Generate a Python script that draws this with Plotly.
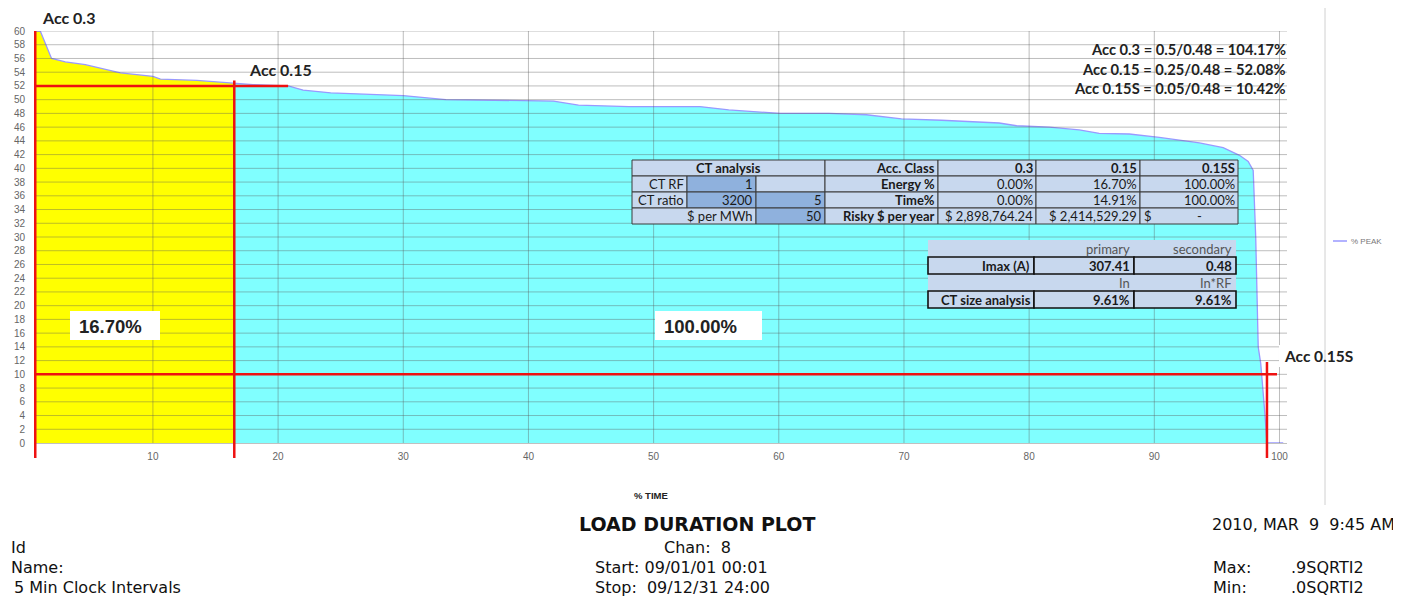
import plotly.graph_objects as go

# ---------------- data ----------------
time_pct = [0.5, 1.0, 1.9, 3.0, 4.6, 6.0, 7.4, 10.0, 10.6, 13.5,
            16.5, 18.0, 20.8, 22.0, 24.2, 27.0, 30.0, 33.4, 37.8, 42.0,
            44.0, 48.0, 53.7, 56.0, 60.1, 64.0, 67.0, 69.8, 73.0, 77.6,
            79.0, 81.6, 84.0, 85.6, 88.0, 90.4, 93.6, 95.5, 96.8, 97.5,
            97.9, 98.1, 98.3, 98.5, 98.8, 99.0, 100.3]
pct_peak = [60.0, 60.0, 56.0, 55.5, 55.1, 54.5, 53.9, 53.4, 53.0, 52.8,
            52.4, 52.2, 52.0, 51.4, 51.0, 50.8, 50.6, 50.0, 49.9, 49.8,
            49.2, 49.0, 49.0, 48.5, 48.0, 48.0, 47.8, 47.2, 47.0, 46.6,
            46.2, 46.0, 45.6, 45.1, 45.0, 44.5, 43.7, 43.0, 41.9, 41.0,
            39.7, 30.0, 14.0, 11.6, 5.0, 0.0, 0.0]

split_time = 16.5          # boundary between yellow and cyan regions
end_time = 99.0            # end of the cyan region

x_ticks = [10, 20, 30, 40, 50, 60, 70, 80, 90, 100]
y_ticks = list(range(0, 61, 2))

# Accuracy marker lines (red)
acc_vert_x = [0.6, 16.5, 99.0]
acc_vert_top = [60.0, 52.8, 11.8]
acc_horiz_y = [52.0, 10.0]
acc_horiz_xend = [20.8, 99.8]

# Table 1 contents
acc_classes = ["0.3", "0.15", "0.15S"]
energy_pct = ["0.00%", "16.70%", "100.00%"]
time_pct_tbl = ["0.00%", "14.91%", "100.00%"]
risky_per_year = ["$ 2,898,764.24", "$ 2,414,529.29", "-"]
ct_rf = "1"
ct_ratio = ["3200", "5"]
per_mwh = "50"

# Table 2 contents
imax_a = ["307.41", "0.48"]
ct_size = ["9.61%", "9.61%"]

acc_notes = ["Acc 0.3 = 0.5/0.48 = 104.17%",
             "Acc 0.15 = 0.25/0.48 = 52.08%",
             "Acc 0.15S = 0.05/0.48 = 10.42%"]

# ---------------- layout geometry ----------------
OFF = 8                     # page body margin
W, H = 1401 - OFF, 604 - OFF
PL, PR, PT, PB = 34, 1287, 31, 443   # plot area in page pixels
XR = [0.5, 100.6]
YR = [0, 60]


def px(x):
    return (x - PL) / (PR - PL)


def py(y):
    return (PB - y) / (PB - PT)


def ypaper(v):
    return (v - YR[0]) / (YR[1] - YR[0])


fig = go.Figure()

yel_x = [t for t in time_pct if t <= split_time]
yel_y = [p for t, p in zip(time_pct, pct_peak) if t <= split_time]
cy_x = [t for t in time_pct if split_time <= t <= end_time]
cy_y = [p for t, p in zip(time_pct, pct_peak) if split_time <= t <= end_time]

fig.add_trace(go.Scatter(x=yel_x, y=yel_y, fill="tozeroy", mode="none",
                         fillcolor="#ffff00", showlegend=False, hoverinfo="skip"))
fig.add_trace(go.Scatter(x=cy_x, y=cy_y, fill="tozeroy", mode="none",
                         fillcolor="#80ffff", showlegend=False, hoverinfo="skip"))
fig.add_trace(go.Scatter(x=time_pct, y=pct_peak, mode="lines", name="% PEAK",
                         line=dict(color="#9999ff", width=1.3), showlegend=False))

shapes = []
# gridlines above fills
for yv in y_ticks[1:]:
    shapes.append(dict(type="line", xref="paper", yref="y", x0=0, x1=1, y0=yv, y1=yv,
                       line=dict(color="rgba(90,90,90,0.4)", width=1), layer="above"))
for xv in x_ticks:
    shapes.append(dict(type="line", xref="x", yref="paper", x0=xv, x1=xv, y0=0, y1=1,
                       line=dict(color="rgba(90,90,90,0.4)", width=1), layer="above"))

# red marker lines
for xv, top in zip(acc_vert_x, acc_vert_top):
    shapes.append(dict(type="line", xref="x", yref="paper", x0=xv, x1=xv,
                       y0=-15 / (PB - PT), y1=ypaper(top),
                       line=dict(color="#ee1111", width=2.5), layer="above"))
for yv, xe in zip(acc_horiz_y, acc_horiz_xend):
    shapes.append(dict(type="line", xref="x", yref="y", x0=XR[0], x1=xe, y0=yv, y1=yv,
                       line=dict(color="#ee1111", width=2.5), layer="above"))

annotations = []
LIGHT = "#c8d8ee"
MED = "#8fb1dd"
BORDER = "#3a3a3a"
TFONT = "Lato"
TSIZE = 13


def rect(x0, x1, y0, y1, fill, line_color=BORDER, lw=1):
    shapes.append(dict(type="rect", xref="paper", yref="paper",
                       x0=px(x0), x1=px(x1), y0=py(y1), y1=py(y0),
                       fillcolor=fill, line=dict(color=line_color, width=lw), layer="above"))


def text(x, y, s, size=TSIZE, bold=False, anchor="right", color="#1a1a1a", family=TFONT):
    annotations.append(dict(x=px(x), y=py(y), xref="paper", yref="paper",
                            text=("<b>%s</b>" % s) if bold else s, showarrow=False,
                            xanchor=anchor, yanchor="middle", borderpad=0,
                            font=dict(size=size, color=color, family=family)))


def cell(x0, x1, y0, y1, fill, s="", bold=False, align="right", color="#1a1a1a"):
    rect(x0, x1, y0, y1, fill)
    if s:
        if align == "right":
            text(x1 - 2, (y0 + y1) / 2, s, bold=bold, anchor="right", color=color)
        elif align == "center":
            text((x0 + x1) / 2, (y0 + y1) / 2, s, bold=bold, anchor="center", color=color)
        else:
            text(x0 + 3, (y0 + y1) / 2, s, bold=bold, anchor="left", color=color)


# ---- table 1 ----
cx = [632, 687, 756, 825, 938, 1036, 1140, 1238]
ry = [160, 176, 192, 208, 224]
cell(cx[0], cx[3], ry[0], ry[1], LIGHT, "CT analysis", bold=True, align="center")
cell(cx[3], cx[4], ry[0], ry[1], LIGHT, "Acc. Class", bold=True)
for i in range(3):
    cell(cx[4 + i], cx[5 + i], ry[0], ry[1], LIGHT, acc_classes[i], bold=True)

cell(cx[0], cx[1], ry[1], ry[2], LIGHT, "CT RF")
cell(cx[1], cx[2], ry[1], ry[2], MED, ct_rf)
cell(cx[2], cx[3], ry[1], ry[2], LIGHT)
cell(cx[3], cx[4], ry[1], ry[2], LIGHT, "Energy %", bold=True)
for i in range(3):
    cell(cx[4 + i], cx[5 + i], ry[1], ry[2], LIGHT, energy_pct[i])

cell(cx[0], cx[1], ry[2], ry[3], LIGHT, "CT ratio")
cell(cx[1], cx[2], ry[2], ry[3], MED, ct_ratio[0])
cell(cx[2], cx[3], ry[2], ry[3], MED, ct_ratio[1])
cell(cx[3], cx[4], ry[2], ry[3], LIGHT, "Time%", bold=True)
for i in range(3):
    cell(cx[4 + i], cx[5 + i], ry[2], ry[3], LIGHT, time_pct_tbl[i])

cell(cx[0], cx[2], ry[3], ry[4], LIGHT, "$ per MWh")
cell(cx[2], cx[3], ry[3], ry[4], MED, per_mwh)
cell(cx[3], cx[4], ry[3], ry[4], LIGHT, "Risky $ per year", bold=True)
cell(cx[4], cx[5], ry[3], ry[4], LIGHT, risky_per_year[0])
cell(cx[5], cx[6], ry[3], ry[4], LIGHT, risky_per_year[1])
cell(cx[6], cx[7], ry[3], ry[4], LIGHT, "$", align="left")
text((cx[6] + cx[7]) / 2 + 10, (ry[3] + ry[4]) / 2, risky_per_year[2], anchor="center")

# ---- table 2 ----
tx = [928, 1034, 1134, 1236]
ty = [240, 257, 274, 291, 308]
rect(tx[0], tx[3], ty[0], ty[4], LIGHT, line_color=LIGHT, lw=0)
text(tx[2] - 3, (ty[0] + ty[1]) / 2, "primary", color="#555555")
text(tx[3] - 3, (ty[0] + ty[1]) / 2, "secondary", color="#555555")
for a, b in [(0, 1), (1, 2), (2, 3)]:
    rect(tx[a], tx[b], ty[1], ty[2], LIGHT, "#111111", 1.6)
    rect(tx[a], tx[b], ty[3], ty[4], LIGHT, "#111111", 1.6)
text(tx[1] - 3, (ty[1] + ty[2]) / 2, "Imax (A)", bold=True)
text(tx[2] - 3, (ty[1] + ty[2]) / 2, imax_a[0], bold=True)
text(tx[3] - 3, (ty[1] + ty[2]) / 2, imax_a[1], bold=True)
text(tx[2] - 3, (ty[2] + ty[3]) / 2, "In", color="#555555")
text(tx[3] - 3, (ty[2] + ty[3]) / 2, "In*RF", color="#555555")
text(tx[1] - 2, (ty[3] + ty[4]) / 2, "CT size analysis", bold=True)
text(tx[2] - 3, (ty[3] + ty[4]) / 2, ct_size[0], bold=True)
text(tx[3] - 3, (ty[3] + ty[4]) / 2, ct_size[1], bold=True)

# ---- notes / labels ----
for i, s in enumerate(acc_notes):
    text(1287, 49 + 19.5 * i, s, size=14.7, bold=True, anchor="right", color="#222222")

text(41, 18, "Acc 0.3", size=16, bold=True, anchor="left", color="#222222")
text(248, 70, "Acc 0.15", size=16, bold=True, anchor="left", color="#222222")
shapes.append(dict(type="rect", xref="paper", yref="paper", x0=px(1279), x1=px(1357),
                   y0=py(367), y1=py(345), fillcolor="white", line=dict(width=0), layer="above"))
text(1283, 356, "Acc 0.15S", size=15.5, bold=True, anchor="left", color="#222222")

for (x0, x1), s in [((70, 160), "16.70%"), ((655, 762), "100.00%")]:
    shapes.append(dict(type="rect", xref="paper", yref="paper", x0=px(x0), x1=px(x1),
                       y0=py(340), y1=py(311), fillcolor="white", line=dict(width=0),
                       layer="above"))
    text(x0 + 8, 326, s, size=18.5, bold=True, anchor="left", color="#222222",
         family="Liberation Sans")

# legend
shapes.append(dict(type="line", xref="paper", yref="paper", x0=px(1333), x1=px(1347),
                   y0=py(241), y1=py(241), line=dict(color="#9999ff", width=1.5)))
text(1350, 241, "% PEAK", size=8, anchor="left", color="#777777", family="Liberation Sans")
shapes.append(dict(type="line", xref="paper", yref="paper", x0=px(1325), x1=px(1325),
                   y0=py(5), y1=py(505), line=dict(color="#d0d0d0", width=1)))

# axis title
text(651, 495, "% TIME", size=9.5, bold=True, anchor="center", color="#222222",
     family="Liberation Sans")

# footer text
FF = "DejaVu Sans"
FS = 16
text(697, 524, "LOAD DURATION PLOT", size=19, bold=True, anchor="center", color="#111111", family=FF)
text(697, 547, "Chan:  8", size=FS, anchor="center", color="#111111", family=FF)
text(594, 567, "Start: 09/01/01 00:01", size=FS, anchor="left", color="#111111", family=FF)
text(594, 587, "Stop:  09/12/31 24:00", size=FS, anchor="left", color="#111111", family=FF)
text(10, 547, "Id", size=FS, anchor="left", color="#111111", family=FF)
text(10, 567, "Name:", size=FS, anchor="left", color="#111111", family=FF)
text(13, 587, "5 Min Clock Intervals", size=FS, anchor="left", color="#111111", family=FF)
text(1211, 524, "2010, MAR  9  9:45 AM", size=FS, anchor="left", color="#111111", family=FF)
text(1212, 567, "Max:", size=FS, anchor="left", color="#111111", family=FF)
text(1290, 567, ".9SQRTI2", size=FS, anchor="left", color="#111111", family=FF)
text(1212, 587, "Min:", size=FS, anchor="left", color="#111111", family=FF)
text(1290, 587, ".0SQRTI2", size=FS, anchor="left", color="#111111", family=FF)

fig.update_layout(
    width=W, height=H, autosize=False,
    margin=dict(l=PL - OFF, r=W - (PR - OFF), t=PT - OFF, b=H - (PB - OFF), pad=0),
    paper_bgcolor="white", plot_bgcolor="white",
    shapes=shapes, annotations=annotations,
    xaxis=dict(range=XR, tickvals=x_ticks, showgrid=False, zeroline=False, automargin=False,
               showline=True, linecolor="#c0c0c0", ticks="outside", ticklen=4,
               tickcolor="rgba(0,0,0,0)",
               tickfont=dict(size=10, color="#666666", family="Liberation Sans")),
    yaxis=dict(range=YR, tickvals=y_ticks, showgrid=False, zeroline=False, automargin=False,
               showline=False, ticks="outside", ticklen=6, tickcolor="rgba(0,0,0,0)",
               tickfont=dict(size=10, color="#666666", family="Liberation Sans")),
    showlegend=False,
)

fig.write_html("out.html")
